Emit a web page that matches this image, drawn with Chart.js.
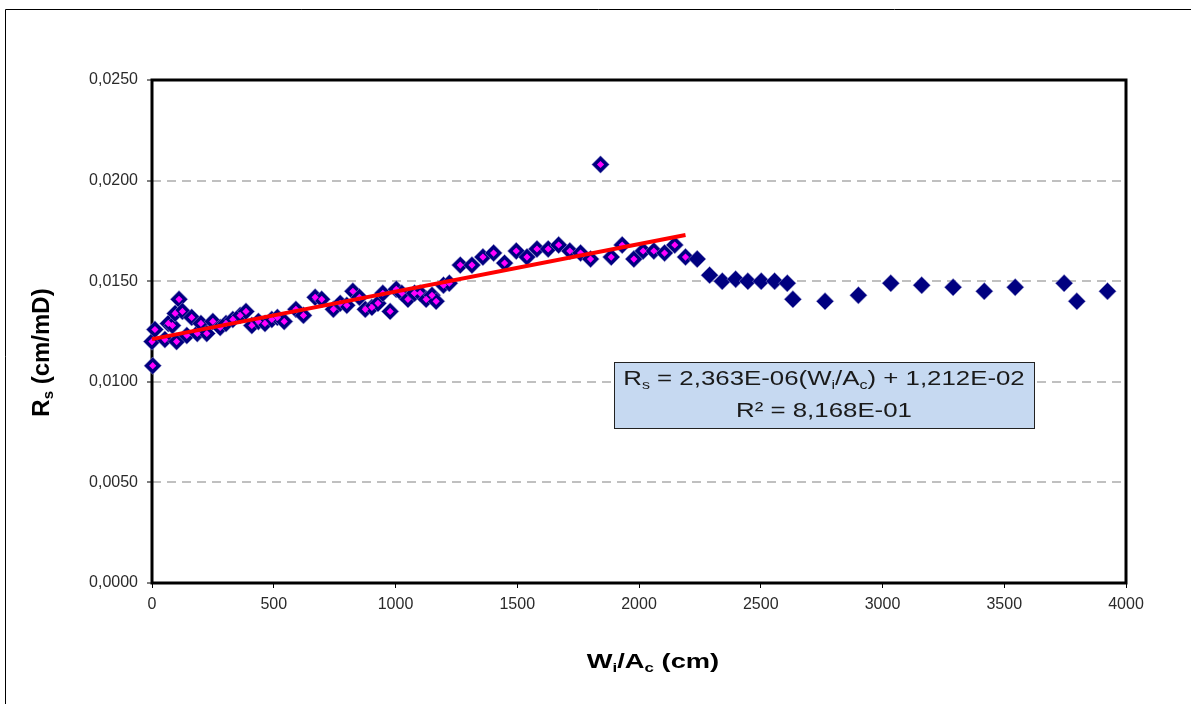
<!DOCTYPE html>
<html>
<head>
<meta charset="utf-8">
<script src="https://cdn.jsdelivr.net/npm/chart.js@4.4.1/dist/chart.umd.min.js"></script>
<style>
  html, body { margin: 0; padding: 0; background: #fff; }
  #wrap { position: relative; width: 1197px; height: 704px; }
</style>
</head>
<body>
<div id="wrap"><canvas id="c" width="1197" height="704"></canvas></div>
<script>
// Measured points: Wi/Ac (cm) against Rs (cm/mD)
const wiAc = [0, 3, 12, 53, 67, 84, 95, 101, 111, 125, 143, 163, 186, 201, 225, 250, 280, 304, 332, 362,
  386, 410, 437, 464, 492, 515, 543, 591, 622, 670, 697, 745, 773, 800, 825, 852, 876, 903, 928, 948,
  978, 1003, 1026, 1051, 1078, 1101, 1126, 1150, 1167, 1197, 1221, 1266, 1314, 1359, 1403, 1448, 1496, 1540, 1581, 1627,
  1670, 1716, 1760, 1801, 1842, 1886, 1931, 1979, 2017, 2061, 2105, 2147, 2191, 2239, 2290, 2342, 2397, 2447, 2502, 2557,
  2609, 2632, 2764, 2901, 3034, 3161, 3290, 3418, 3545, 3746, 3798, 3924];
const rs = [0.0120, 0.0108, 0.0126, 0.0121, 0.0129, 0.0128, 0.0134, 0.0120, 0.0141, 0.0135, 0.0123, 0.0132, 0.0124, 0.0129, 0.0124, 0.0130, 0.0127, 0.0129, 0.0131, 0.0133,
  0.0135, 0.0128, 0.0130, 0.0129, 0.0131, 0.0132, 0.0130, 0.0136, 0.0133, 0.0142, 0.0141, 0.0136, 0.0139, 0.0138, 0.0145, 0.0142, 0.0136, 0.0137, 0.0139, 0.0144,
  0.0135, 0.0146, 0.0144, 0.0141, 0.0144, 0.0144, 0.0141, 0.0143, 0.0140, 0.0148, 0.0149, 0.0158, 0.0158, 0.0162, 0.0164, 0.0159, 0.0165, 0.0162, 0.0166, 0.0166,
  0.0168, 0.0165, 0.0164, 0.0161, 0.0208, 0.0162, 0.0168, 0.0161, 0.0165, 0.0165, 0.0164, 0.0168, 0.0162, 0.0161, 0.0153, 0.0150, 0.0151, 0.0150, 0.0150, 0.0150,
  0.0149, 0.0141, 0.0140, 0.0143, 0.0149, 0.0148, 0.0147, 0.0145, 0.0147, 0.0149, 0.0140, 0.0145];

// Points used for the linear fit (highlighted) and the fit itself
const fitRangeEnd = 2191;
const fitSlope = 2.363e-6;
const fitIntercept = 1.212e-2;
const fitR2 = 8.168e-1;

// Axis ticks
const xTicks = [0, 500, 1000, 1500, 2000, 2500, 3000, 3500, 4000];
const yTicks = [0.0000, 0.0050, 0.0100, 0.0150, 0.0200, 0.0250];

const FONT = '"Liberation Sans", Arial, Helvetica, sans-serif';

const allPoints = wiAc.map((x, i) => ({ x, y: rs[i] }));
const fitPoints = allPoints.filter(p => p.x <= fitRangeEnd);
const fitXs = fitPoints.map(p => p.x);
const fitX0 = Math.min(...fitXs), fitX1 = Math.max(...fitXs);
const fitLine = [fitX0, fitX1].map(x => ({ x, y: fitSlope * x + fitIntercept }));

const sci = v => {
  const e = Math.floor(Math.log10(Math.abs(v)));
  const m = v / Math.pow(10, e);
  const es = (e < 0 ? '-' : '+') + String(Math.abs(e)).padStart(2, '0');
  return m.toFixed(3).replace('.', ',') + 'E' + es;
};

// Draw a run of text segments (some subscripted), centred on (cx, cy)
function drawRich(ctx, segs, cx, cy, size, weight, opts) {
  const o = Object.assign({ rotate: false, sx: 1, color: '#000' }, opts || {});
  const subSize = Math.round(size * 0.62);
  ctx.save();
  ctx.translate(cx, cy);
  if (o.rotate) ctx.rotate(-Math.PI / 2);
  ctx.scale(o.sx, 1);
  const fontFor = s => `${weight} ${s.sub ? subSize : size}px ${FONT}`;
  let total = 0;
  const widths = segs.map(s => { ctx.font = fontFor(s); const w = ctx.measureText(s.t).width; total += w; return w; });
  let x = -total / 2;
  const base = size * 0.36;
  ctx.fillStyle = o.color;
  ctx.textBaseline = 'alphabetic';
  ctx.textAlign = 'left';
  segs.forEach((s, i) => {
    ctx.font = fontFor(s);
    ctx.fillText(s.t, x, base + (s.sub ? size * 0.2 : 0));
    x += widths[i];
  });
  ctx.restore();
}

const decor = {
  id: 'decor',
  beforeDraw(chart) {
    const ctx = chart.ctx;
    ctx.save();
    ctx.fillStyle = '#fff';
    ctx.fillRect(0, 0, chart.width, chart.height);
    ctx.strokeStyle = '#000';
    ctx.lineWidth = 1;
    ctx.beginPath();
    ctx.moveTo(5.5, chart.height);
    ctx.lineTo(5.5, 9.5);
    ctx.lineTo(1191, 9.5);
    ctx.stroke();
    ctx.restore();
  },
  beforeDatasetsDraw(chart) {
    const { ctx, chartArea: a } = chart;
    ctx.save();
    ctx.strokeStyle = '#000';
    ctx.lineWidth = 3;
    ctx.strokeRect(a.left, a.top, a.right - a.left, a.bottom - a.top);
    ctx.restore();
  },
  afterDraw(chart) {
    const { ctx, chartArea: a } = chart;
    const midY = (a.top + a.bottom) / 2;
    const midX = (a.left + a.right) / 2;
    // axis titles
    drawRich(ctx, [{ t: 'R' }, { t: 's', sub: true }, { t: ' (cm/mD)' }], a.left - 112, midY + 21, 24, 'bold', { rotate: true });
    drawRich(ctx, [{ t: 'W' }, { t: 'i', sub: true }, { t: '/A' }, { t: 'c', sub: true }, { t: ' (cm)' }], midX + 14, a.bottom + 77, 21, 'bold', { sx: 1.3 });
    // trendline label
    const bx = a.left + 462, by = a.top + 282, bw = 420, bh = 66;
    ctx.save();
    ctx.fillStyle = '#c6d9f1';
    ctx.fillRect(bx, by, bw, bh);
    ctx.strokeStyle = '#222';
    ctx.lineWidth = 1;
    ctx.strokeRect(bx + 0.5, by + 0.5, bw, bh);
    ctx.restore();
    const cx = bx + bw / 2;
    drawRich(ctx, [{ t: 'R' }, { t: 's', sub: true }, { t: ' = ' + sci(fitSlope) + '(W' }, { t: 'i', sub: true }, { t: '/A' }, { t: 'c', sub: true },
      { t: ') + ' + sci(fitIntercept) }], cx, by + 15, 21, 'normal', { sx: 1.23, color: '#1a1a1a' });
    drawRich(ctx, [{ t: 'R² = ' + sci(fitR2) }], cx, by + 47, 21, 'normal', { sx: 1.23, color: '#1a1a1a' });
  }
};

new Chart(document.getElementById('c'), {
  type: 'scatter',
  data: {
    datasets: [
      {
        type: 'line',
        data: fitLine,
        borderColor: '#ff0000',
        borderWidth: 4,
        pointRadius: 0,
        fill: false,
        clip: false,
        order: 0
      },
      {
        data: fitPoints,
        pointStyle: 'rectRot',
        pointRadius: 3.6,
        backgroundColor: '#ff00ff',
        borderWidth: 0,
        clip: false,
        order: 1
      },
      {
        data: allPoints,
        pointStyle: 'rectRot',
        pointRadius: 8.7,
        backgroundColor: '#000080',
        borderColor: 'rgba(150,150,205,0.8)',
        borderWidth: 0.7,
        clip: false,
        order: 2
      }
    ]
  },
  plugins: [decor],
  options: {
    responsive: false,
    animation: false,
    layout: { padding: { left: 0, top: 80, right: 71, bottom: 0 } },
    plugins: { legend: { display: false }, tooltip: { enabled: false } },
    scales: {
      x: {
        type: 'linear',
        min: xTicks[0],
        max: xTicks[xTicks.length - 1],
        afterFit: s => { s.height = 121; },
        afterBuildTicks: s => { s.ticks = xTicks.map(v => ({ value: v })); },
        ticks: {
          callback: v => String(v),
          font: { family: FONT, size: 16 },
          color: '#2a2a2a',
          padding: 7,
          maxRotation: 0,
          autoSkip: false
        },
        grid: { drawOnChartArea: false, drawTicks: true, tickLength: 5, tickColor: '#000', tickWidth: 1 },
        border: { display: false }
      },
      y: {
        type: 'linear',
        min: yTicks[0],
        max: yTicks[yTicks.length - 1],
        afterFit: s => { s.width = 152; },
        afterBuildTicks: s => { s.ticks = yTicks.map(v => ({ value: v })); },
        ticks: {
          callback: v => Number(v).toFixed(4).replace('.', ','),
          font: { family: FONT, size: 16 },
          color: '#2a2a2a',
          padding: 9
        },
        grid: {
          color: c => (c.tick && (c.tick.value === yTicks[0] || c.tick.value === yTicks[yTicks.length - 1])) ? 'rgba(0,0,0,0)' : '#c0c0c0',
          lineWidth: 2,
          drawTicks: true,
          tickLength: 5,
          tickColor: '#000',
          tickWidth: 1,
          tickBorderDash: []
        },
        border: { display: false, dash: [9, 6] }
      }
    }
  }
});
</script>
</body>
</html>
